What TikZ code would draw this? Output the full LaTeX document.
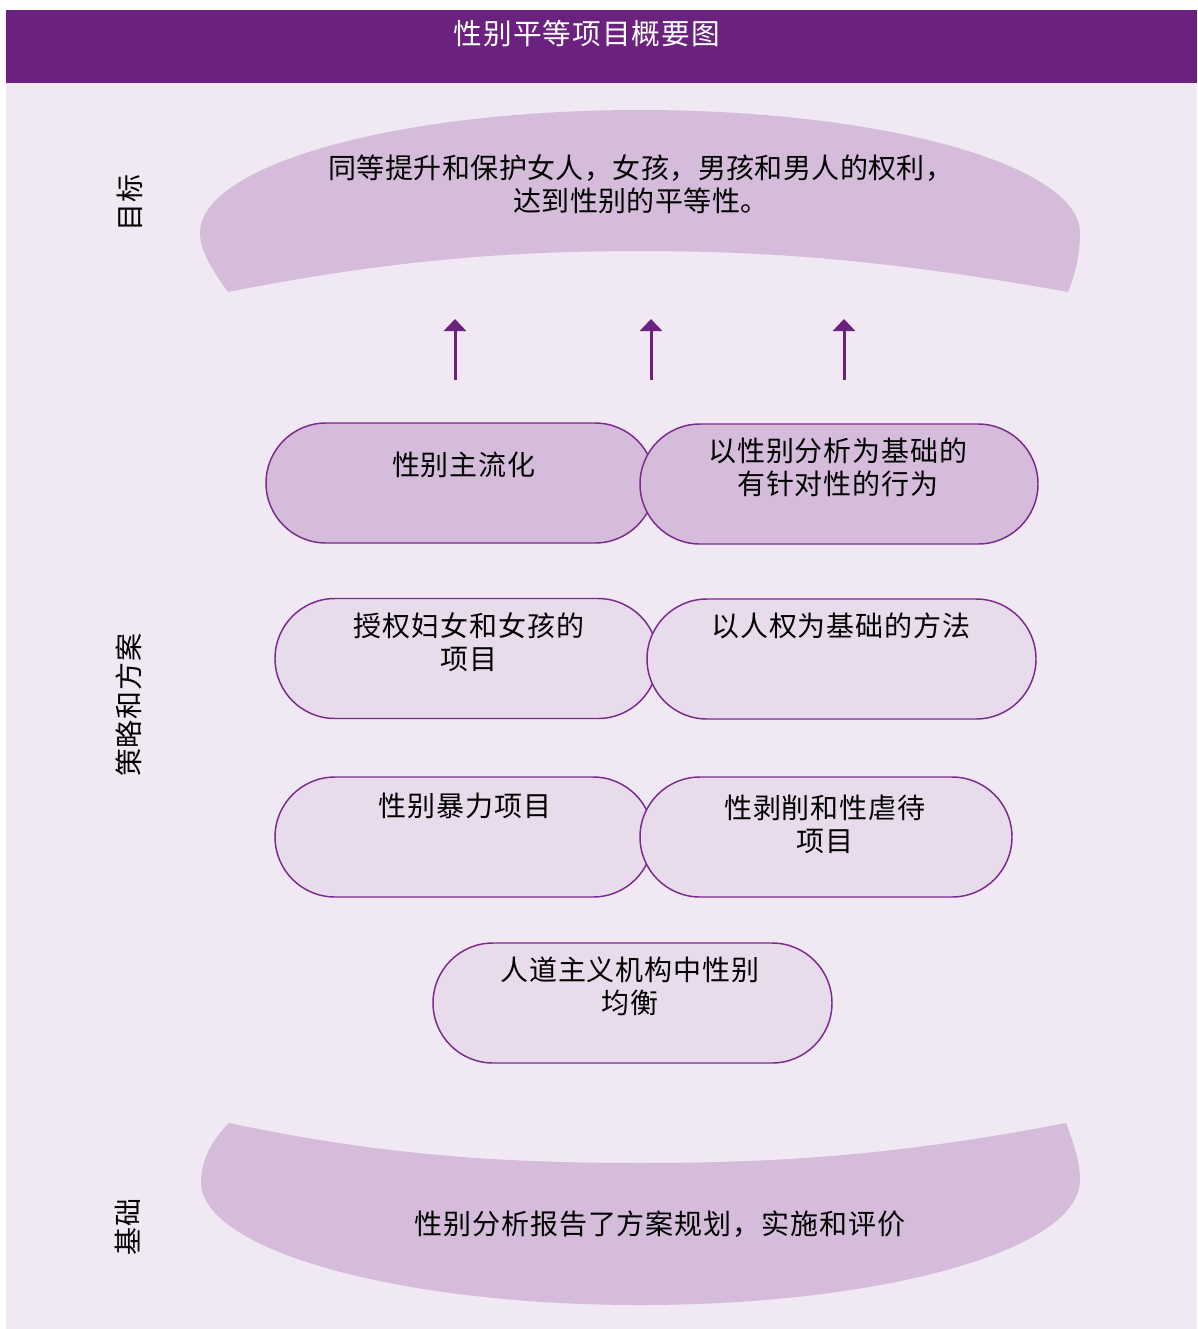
\documentclass[tikz,border=0pt]{standalone}
\usepackage{fontspec}
\setmainfont[LetterSpace=3.5]{Noto Sans CJK SC}
\usetikzlibrary{arrows.meta}
\definecolor{barpurple}{HTML}{6B217E}
\definecolor{bglav}{HTML}{F0E8F2}
\definecolor{bannerfill}{HTML}{D4BCDA}
\definecolor{lightfill}{HTML}{E8DCEC}
\definecolor{edgepurple}{HTML}{7A2A8C}
\tikzset{
  pillbox/.style={draw=edgepurple, line width=1.1pt, rounded corners=45pt, minimum height=90pt, inner sep=0pt},
  darkpill/.style={pillbox, fill=bannerfill},
  lightpill/.style={pillbox, fill=lightfill},
  txt/.style={font=\fontsize{21pt}{24.75pt}\selectfont, align=center, inner sep=0pt, text=black},
  sidelabel/.style={txt, rotate=90},
  uparrow/.style={draw=barpurple, line width=2.25pt, -{Triangle[width=16.5pt,length=9pt]}},
  banner/.style={fill=bannerfill}
}
\begin{document}
\begin{tikzpicture}[x=0.75pt,y=-0.75pt]
\useasboundingbox (0,0) rectangle (1197,1329);
\fill[white] (0,0) rectangle (1197,1329);
\fill[bglav] (6,83) rectangle (1197,1329);
\fill[barpurple] (6,10) rectangle (1197,83);
\node[txt, text=white, font=\fontsize{21.5pt}{25pt}\selectfont] (title) at (587,34) {性别平等项目概要图};

% goal banner
\fill[banner] (200,233) .. controls (200,165) and (397,110) .. (640,110)
  .. controls (883,110) and (1080,165) .. (1080,233)
  .. controls (1080,255) and (1075,275) .. (1068,292)
  .. controls (900,262) and (780,251) .. (640,251)
  .. controls (500,251) and (380,262) .. (228,292)
  .. controls (212,270) and (200,250) .. (200,233) -- cycle;
\node[txt, font=\fontsize{21pt}{24.75pt}\selectfont\addfontfeature{LetterSpace=1.5}] (goal) at (641,184) {同等提升和保护女人，女孩，男孩和男人的权利，\\达到性别的平等性。};

% foundation banner
\fill[banner] (229,1123) .. controls (380,1155) and (500,1163) .. (640,1163)
  .. controls (780,1163) and (900,1155) .. (1066,1123)
  .. controls (1074,1145) and (1080,1162) .. (1080,1180)
  .. controls (1080,1250) and (883,1305) .. (640,1305)
  .. controls (398,1305) and (201,1250) .. (201,1182)
  .. controls (201,1160) and (212,1140) .. (229,1123) -- cycle;
\node[txt] (base) at (660,1224) {性别分析报告了方案规划，实施和评价};

% side labels
\node[sidelabel] (lgoal) at (130,203) {目标};
\node[sidelabel] (lstrat) at (129,705) {策略和方案};
\node[sidelabel] (lbase) at (128,1227) {基础};

% arrows
\coordinate (a1s) at (455,380); \coordinate (a1e) at (455,319);
\coordinate (a2s) at (651,380); \coordinate (a2e) at (651,319);
\coordinate (a3s) at (844,380); \coordinate (a3e) at (844,319);
\draw[uparrow] (a1s) -- (a1e);
\draw[uparrow] (a2s) -- (a2e);
\draw[uparrow] (a3s) -- (a3e);

% row 1
\node[darkpill, minimum width=291.75pt] (boxA) at (460.5,483) {};
\node[darkpill, minimum width=298.5pt] (boxB) at (839,484) {};
\node[txt] (tA) at (464,465) {性别主流化};
\node[txt] (tB) at (838,467) {以性别分析为基础的\\有针对性的行为};

% row 2
\node[lightpill, minimum width=287.25pt] (boxC) at (466.5,658.5) {};
\node[lightpill, minimum width=291.75pt] (boxD) at (841.5,659) {};
\node[txt] (tC) at (469,642) {授权妇女和女孩的\\项目};
\node[txt] (tD) at (841,626) {以人权为基础的方法};

% row 3
\node[lightpill, minimum width=283.5pt] (boxE) at (464,837) {};
\node[lightpill, minimum width=279pt] (boxF) at (826,837) {};
\node[txt] (tE) at (465,806) {性别暴力项目};
\node[txt] (tF) at (825,824) {性剥削和性虐待\\项目};

% row 4
\node[lightpill, minimum width=299.25pt] (boxG) at (632.5,1003) {};
\node[txt] (tG) at (630,986) {人道主义机构中性别\\均衡};
\end{tikzpicture}
\end{document}
